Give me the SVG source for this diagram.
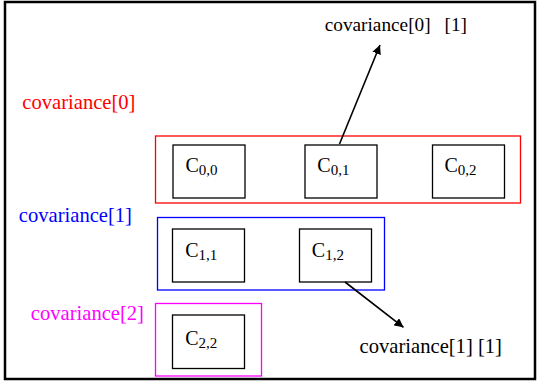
<svg xmlns="http://www.w3.org/2000/svg" width="537" height="386" viewBox="0 0 537 386">
<style>
text{font-family:"Liberation Serif","Times New Roman",serif;}
.lbl{font-size:20.6px;}
.c{font-size:20px;fill:#000;}
.sub{font-size:15px;}
.box{fill:#fff;stroke:#000;stroke-width:1.3;}
.grp{fill:none;stroke-width:1.3;}
.conn{stroke:#000;stroke-width:1.6;fill:none;}
</style>
<defs>
<marker id="ah" viewBox="0 0 10 10" refX="10" refY="5" markerWidth="9" markerHeight="9" markerUnits="userSpaceOnUse" orient="auto">
<path d="M0,0 L10,5 L0,10 z" fill="#000"/>
</marker>
</defs>
<rect x="0" y="0" width="537" height="386" fill="#fff"/>
<rect x="5" y="2" width="530" height="377" fill="none" stroke="#000" stroke-width="2.5"/>

<g id="group0">
<rect class="grp" x="155.5" y="136" width="365" height="67" stroke="#ff0000"/>
<text class="lbl" x="22.3" y="108.5" fill="#ff0000">covariance[0]</text>
</g>
<g id="group1">
<rect class="grp" x="157.5" y="217.5" width="227" height="72.5" stroke="#0000ff"/>
<text class="lbl" x="18.8" y="221.5" fill="#0000ff">covariance[1]</text>
</g>
<g id="group2">
<rect class="grp" x="155.5" y="303.5" width="106" height="72.5" stroke="#ff00ff"/>
<text class="lbl" x="30.8" y="319.5" fill="#ff00ff">covariance[2]</text>
</g>

<g id="c00"><rect class="box" x="173" y="145" width="72" height="53"/><text class="c" x="185.5" y="171.5">C<tspan class="sub" dy="3">0,0</tspan></text></g>
<g id="c01"><rect class="box" x="305" y="145" width="72" height="53"/><text class="c" x="317.3" y="171.5">C<tspan class="sub" dy="3">0,1</tspan></text></g>
<g id="c02"><rect class="box" x="432.5" y="145" width="72" height="53"/><text class="c" x="444.5" y="171.5">C<tspan class="sub" dy="3">0,2</tspan></text></g>
<g id="c11"><rect class="box" x="172.5" y="229" width="72" height="53"/><text class="c" x="185.2" y="256.5">C<tspan class="sub" dy="3">1,1</tspan></text></g>
<g id="c12"><rect class="box" x="299.5" y="229" width="72" height="53"/><text class="c" x="311.8" y="256.5">C<tspan class="sub" dy="3">1,2</tspan></text></g>
<g id="c22"><rect class="box" x="172.5" y="315" width="72" height="53.5"/><text class="c" x="185.2" y="344.5">C<tspan class="sub" dy="3">2,2</tspan></text></g>

<g id="label01"><text x="324.7" y="31" style="font-size:19.3px;word-spacing:9px">covariance[0] [1]</text></g>
<g id="label11"><text class="lbl" x="359.6" y="352.5">covariance[1] [1]</text></g>

<g id="connectors">
<line class="conn" x1="339.5" y1="144" x2="380" y2="45" marker-end="url(#ah)"/>
<line class="conn" x1="345" y1="282" x2="403.5" y2="327.3" marker-end="url(#ah)"/>
</g>
</svg>
